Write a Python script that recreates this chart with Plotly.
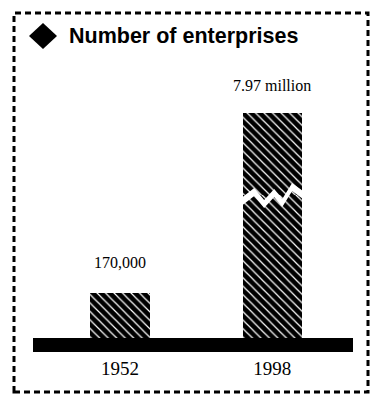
import plotly.graph_objects as go

# ---- data ----
years = ["1952", "1998"]
enterprises = [170000, 7970000]
value_labels = ["170,000", "7.97 million"]
title_text = "Number of enterprises"

W, H = 377, 396
def px(x):  # pixel -> paper x
    return x / W
def py(y):  # pixel -> paper y
    return 1 - y / H

bar_width = 0.39
pattern = dict(shape="\\", bgcolor="black", fgcolor="white", size=6, solidity=0.2, fillmode="replace")

# broken y axis: lower part and upper part share the same scale
per_px = enterprises[0] / 45.5
low_top_px, low_bot_px = 195, 338
up_top_px = 60
low_range = [0, per_px * (low_bot_px - low_top_px)]
bar_top_px = 113
up_low = enterprises[1] - per_px * (low_top_px - bar_top_px)
up_range = [up_low, up_low + per_px * (low_top_px - up_top_px)]

fig = go.Figure()
fig.add_trace(go.Bar(x=years, y=enterprises, width=bar_width, xaxis="x", yaxis="y",
                     marker=dict(color="black", line=dict(width=0), pattern=pattern), hoverinfo="skip"))
fig.add_trace(go.Bar(x=years, y=enterprises, width=bar_width, xaxis="x", yaxis="y2",
                     marker=dict(color="black", line=dict(width=0), pattern=pattern), hoverinfo="skip"))

annotations = [
    dict(x=0, y=enterprises[0], xref="x", yref="y", text=value_labels[0], showarrow=False,
         yanchor="bottom", yshift=20, font=dict(family="Liberation Serif", size=16, color="black")),
    dict(x=1, y=enterprises[1], xref="x", yref="y2", text=value_labels[1], showarrow=False,
         yanchor="bottom", yshift=17, font=dict(family="Liberation Serif", size=16, color="black")),
    dict(x=px(67), y=py(36), xref="paper", yref="paper", text="<b>" + title_text + "</b>", showarrow=False,
         xanchor="left", yanchor="middle", font=dict(family="Liberation Sans", size=21.5, color="black")),
]

# zig-zag break over the 1998 bar (x in data units, y in pixels)
c = 1
zx = [-0.22, -0.118, -0.053, 0.013, 0.066, 0.131, 0.22]
top = [200, 188, 200, 189, 199, 183, 193]
pts = [(c + dx, py(y)) for dx, y in zip(zx, top)]
pts += [(c + dx, py(y + 8)) for dx, y in reversed(list(zip(zx, top)))]
path = "M " + " L ".join(f"{x},{y}" for x, y in pts) + " Z"

shapes = [
    dict(type="path", path=path, xref="x", yref="paper", fillcolor="white", line=dict(width=0), layer="above"),
    # diamond bullet
    dict(type="path", xref="paper", yref="paper",
         path=f"M {px(29)},{py(36)} L {px(43)},{py(23)} L {px(57)},{py(36)} L {px(43)},{py(49)} Z",
         fillcolor="black", line=dict(width=0)),
    # dashed frame
    dict(type="rect", xref="paper", yref="paper", x0=px(14), x1=px(368), y0=py(392), y1=py(13),
         line=dict(color="black", width=3, dash="6px,4px")),
]

fig.update_layout(
    width=W, height=H, margin=dict(l=0, r=0, t=0, b=0),
    paper_bgcolor="white", plot_bgcolor="white", showlegend=False,
    bargap=0, barmode="overlay",
    xaxis=dict(domain=[px(33), px(353)], range=[-0.572, 1.531], type="category",
               showline=True, linewidth=14, linecolor="black", ticks="", showgrid=False, zeroline=False,
               tickfont=dict(family="Liberation Serif", size=19, color="black"), ticklabelstandoff=0),
    yaxis=dict(domain=[py(low_bot_px), py(low_top_px)], range=low_range, visible=False, showgrid=False),
    yaxis2=dict(domain=[py(low_top_px), py(up_top_px)], range=up_range, visible=False, showgrid=False),
    annotations=annotations, shapes=shapes,
)
fig.write_html("out.html", config={"displayModeBar": False},
               post_script="document.body.style.margin='0';document.body.style.overflow='hidden';")
